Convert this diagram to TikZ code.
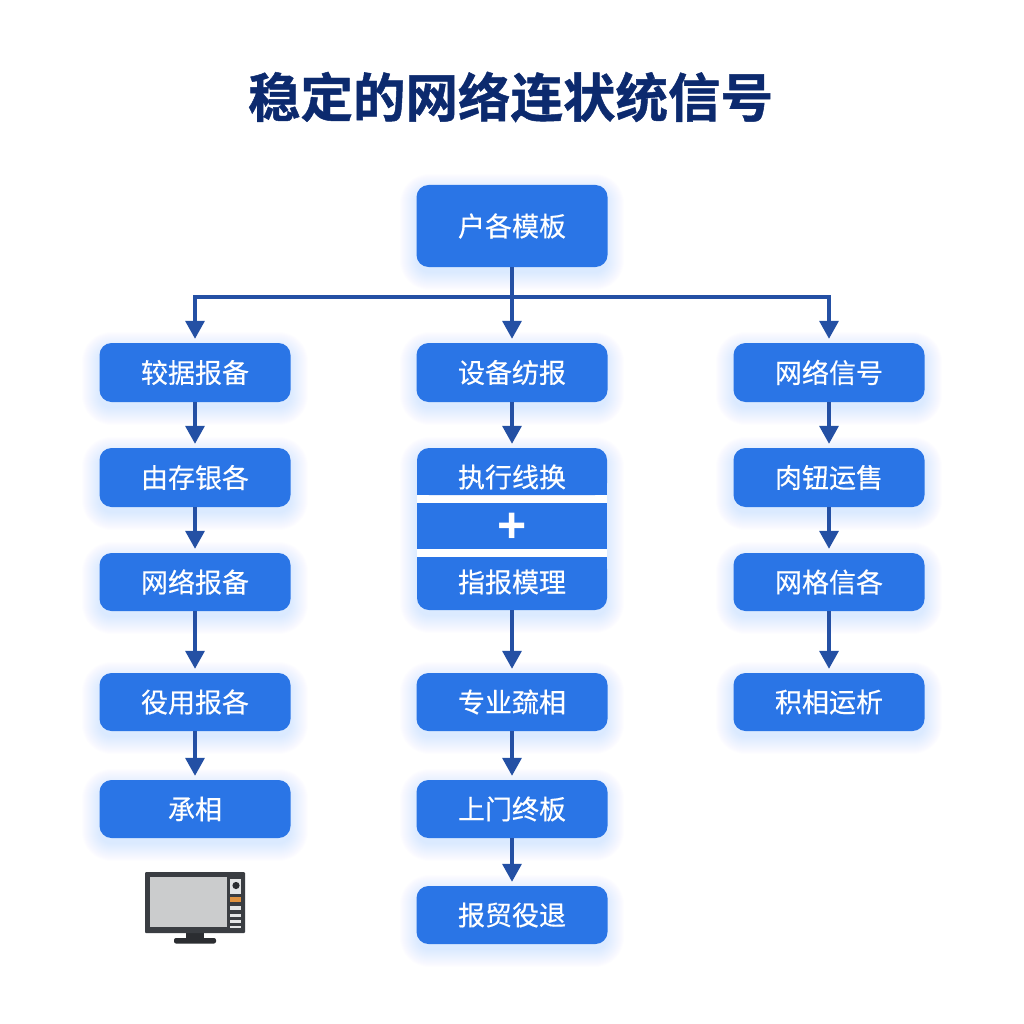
\documentclass[tikz,border=0pt]{standalone}
\usepackage{fontspec}
\usetikzlibrary{arrows.meta}
\newfontfamily\cjklabel[FakeBold=0.4]{Noto Sans CJK SC}
\newfontfamily\cjktitle[FakeBold=0.9]{Noto Sans CJK SC Bold}
\newfontfamily\plusfont{Liberation Sans Bold}
\definecolor{boxblue}{HTML}{2A75E6}
\definecolor{arrowblue}{HTML}{2450A4}
\definecolor{titleblue}{HTML}{0C2A6E}
\definecolor{glowblue}{HTML}{2F7BFF}
\definecolor{tvbody}{HTML}{3A3D42}
\definecolor{tvscreen}{HTML}{CBCCCD}
\definecolor{tvpanel}{HTML}{E4E5E6}
\definecolor{tvorange}{HTML}{E0923F}
\definecolor{tvbase}{HTML}{2B2D31}
\tikzset{
  flowbox/.style={rectangle,rounded corners=12pt,fill=boxblue,text=white,minimum width=191pt,inner sep=0pt,font=\cjklabel\fontsize{27}{27}\selectfont},
  flat/.style={rectangle,text=white,minimum width=191pt,inner sep=0pt,font=\cjklabel\fontsize{27}{27}\selectfont},
  link/.style={draw=arrowblue,line width=3.4pt,-{Triangle[width=19pt,length=18pt]},shorten >=4pt},
  bus/.style={draw=arrowblue,line width=3.4pt},
}
\newcommand{\softglow}[4]{%
  \foreach \e in {17,16,...,0}{%
    \fill[glowblue,opacity=0.0085,rounded corners={(12+\e)*1pt}]
      ({#1-\e},{#2+6-\e}) rectangle ({#3+\e},{#4+6+\e});
  }%
}
\begin{document}
\begin{tikzpicture}[x=1pt,y=-1pt]
\useasboundingbox (0,0) rectangle (1024,1024);
\fill[white] (0,0) rectangle (1024,1024);
% soft shadows
\softglow{417}{185}{607}{267}
\foreach \a/\b in {343/402,448/507,553/611,673/731,780/838}{\softglow{99}{\a}{291}{\b}}
\foreach \a/\b in {343/402,448/610,673/731,780/838,886/944}{\softglow{417}{\a}{607}{\b}}
\foreach \a/\b in {343/402,448/507,553/611,673/731}{\softglow{733}{\a}{925}{\b}}
% title
\node[text=titleblue,font=\cjktitle\fontsize{52.5}{52.5}\selectfont] (title) at (510.5,97) {稳定的网络连状统信号};
% root
\node[flowbox,minimum height=82pt] (root) at (512,226) {户各模板};
\coordinate (busmid) at (512,297);
% left column
\node[flowbox,minimum height=59pt] (a1) at (195,372.5) {较据报备};
\node[flowbox,minimum height=59pt] (a2) at (195,477.5) {由存银各};
\node[flowbox,minimum height=58pt] (a3) at (195,582) {网络报备};
\node[flowbox,minimum height=58pt] (a4) at (195,702) {役用报各};
\node[flowbox,minimum height=58pt] (a5) at (195,809) {承相};
% middle column
\node[flowbox,minimum height=59pt] (b1) at (512,372.5) {设备纺报};
\fill[white] (417,495) rectangle (607,503);
\fill[white] (417,549) rectangle (607,557);
\fill[boxblue,rounded corners=12pt] (417,495) -- (417,448) -- (607,448) -- (607,495) -- cycle;
\fill[boxblue] (417,480) rectangle (607,495);
\fill[boxblue] (417,503) rectangle (607,549);
\fill[boxblue,rounded corners=12pt] (417,557) -- (417,610) -- (607,610) -- (607,557) -- cycle;
\fill[boxblue] (417,557) rectangle (607,572);
\node[flat,minimum height=58pt] (b2) at (512,477) {执行线换};
\node[flat,minimum height=46pt,font=\plusfont\fontsize{50}{50}\selectfont] (b3) at (512,528) {+};
\node[flat,minimum height=56pt] (b4) at (512,582) {指报模理};
\node[flowbox,minimum height=58pt] (b5) at (512,702) {专业巯相};
\node[flowbox,minimum height=58pt] (b6) at (512,809) {上门终板};
\node[flowbox,minimum height=58pt] (b7) at (512,915) {报贸役退};
% right column
\node[flowbox,minimum height=59pt] (c1) at (829,372.5) {网络信号};
\node[flowbox,minimum height=59pt] (c2) at (829,477.5) {肉钮运售};
\node[flowbox,minimum height=58pt] (c3) at (829,582) {网格信各};
\node[flowbox,minimum height=58pt] (c4) at (829,702) {积相运析};
% connectors
\draw[bus] (root.south) -- (busmid);
\draw[link] (busmid) -- (b1.north);
\draw[link] (busmid) -| (a1.north);
\draw[link] (busmid) -| (c1.north);
\draw[link] (a1) -- (a2);
\draw[link] (a2) -- (a3);
\draw[link] (a3) -- (a4);
\draw[link] (a4) -- (a5);
\draw[link] (b1) -- (b2);
\draw[link] (b4) -- (b5);
\draw[link] (b5) -- (b6);
\draw[link] (b6) -- (b7);
\draw[link] (c1) -- (c2);
\draw[link] (c2) -- (c3);
\draw[link] (c3) -- (c4);
% monitor icon
\fill[tvbase] (186,932) rectangle (204,940);
\fill[tvbase,rounded corners=2pt] (174,938) rectangle (216,943.5);
\fill[tvbody,rounded corners=1pt] (145,872) rectangle (245,933);
\fill[tvscreen] (150,876.5) rectangle (226.5,927);
\fill[tvpanel] (230,879) rectangle (241,894);
\fill[tvbase] (236,885.5) circle (3.6);
\fill[tvorange] (230,897) rectangle (241,902);
\fill[tvpanel] (230,906) rectangle (241,910);
\fill[tvpanel] (230,913.5) rectangle (241,917);
\fill[tvpanel] (230,920) rectangle (241,923);
\fill[tvpanel] (230,925.5) rectangle (241,928);
\end{tikzpicture}
\end{document}
